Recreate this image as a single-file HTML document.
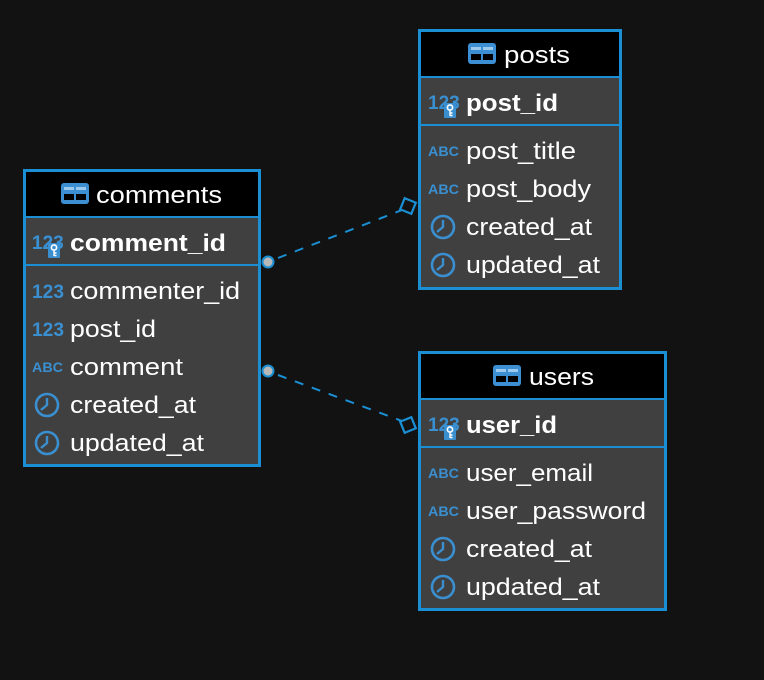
<!DOCTYPE html>
<html><head><style>
html,body{margin:0;padding:0;background:#121212;}
svg{display:block}
text{font-family:"Liberation Sans",sans-serif;}
</style></head><body>
<svg width="764" height="680" viewBox="0 0 764 680" xmlns="http://www.w3.org/2000/svg">
<defs>
<g id="tbl">
<rect x="0" y="0" width="28" height="21" rx="3" fill="#3b8fd2"/>
<rect x="3" y="4" width="10" height="3" fill="#9ccaee"/>
<rect x="15" y="4" width="10" height="3" fill="#9ccaee"/>
<rect x="3" y="11" width="10" height="6" fill="#000"/>
<rect x="15" y="11" width="10" height="6" fill="#000"/>
</g>
<g id="clk">
<circle cx="0" cy="0" r="11" fill="none" stroke="#3a8fd0" stroke-width="2.6"/>
<path d="M0 -7 V0 L-6 5" fill="none" stroke="#3a8fd0" stroke-width="2.4"/>
</g>
<g id="key">
<rect x="0" y="0" width="12" height="15" rx="1" fill="#3a8fd0"/>
<circle cx="6" cy="4.5" r="2.6" fill="none" stroke="#fff" stroke-width="1.6"/>
<path d="M6 7 V13 M6 10 H8.5 M6 12.5 H8.5" stroke="#fff" stroke-width="1.4"/>
</g>
</defs>

<g stroke="#1a8fd3" stroke-width="2" fill="none">
<path d="M278 258 L402 210" stroke-dasharray="9,9"/>
<path d="M278 375 L402 421" stroke-dasharray="9,9"/>
<rect x="402" y="200" width="12" height="12" transform="rotate(22 408 206)" stroke-width="2.2"/>
<rect x="402" y="419" width="12" height="12" transform="rotate(-22 408 425)" stroke-width="2.2"/>
</g>
<circle cx="268" cy="262" r="5.5" fill="#b8b8b8" stroke="#1a8fd3" stroke-width="2"/>
<circle cx="268" cy="371" r="5.5" fill="#b8b8b8" stroke="#1a8fd3" stroke-width="2"/>

<g font-size="24" fill="#fff">
<!-- comments -->
<rect x="24.5" y="170.5" width="235" height="295" fill="#404040" stroke="#1a8fd3" stroke-width="3"/>
<rect x="26" y="172" width="232" height="44" fill="#000"/>
<line x1="26" y1="217" x2="258" y2="217" stroke="#1a8fd3" stroke-width="2"/>
<line x1="26" y1="265" x2="258" y2="265" stroke="#1a8fd3" stroke-width="2"/>
<use href="#tbl" x="61" y="183"/>
<text x="96" y="203" textLength="126" lengthAdjust="spacingAndGlyphs">comments</text>
<text x="32" y="249" font-size="19" font-weight="bold" fill="#3a8fd0">12</text>
<text x="32" y="249" font-size="19" font-weight="bold" fill="#3a8fd0">123</text>
<use href="#key" x="48" y="243"/>
<text x="70" y="251" font-weight="bold" textLength="156" lengthAdjust="spacingAndGlyphs">comment_id</text>
<text x="32" y="298" font-size="19" font-weight="bold" fill="#3a8fd0" textLength="32" lengthAdjust="spacingAndGlyphs">123</text>
<text x="70" y="299" textLength="170" lengthAdjust="spacingAndGlyphs">commenter_id</text>
<text x="32" y="336" font-size="19" font-weight="bold" fill="#3a8fd0" textLength="32" lengthAdjust="spacingAndGlyphs">123</text>
<text x="70" y="337" textLength="86" lengthAdjust="spacingAndGlyphs">post_id</text>
<text x="32" y="372" font-size="14" font-weight="bold" fill="#3a8fd0" textLength="31" lengthAdjust="spacingAndGlyphs">ABC</text>
<text x="70" y="375" textLength="113" lengthAdjust="spacingAndGlyphs">comment</text>
<use href="#clk" x="47" y="405"/>
<text x="70" y="413" textLength="126" lengthAdjust="spacingAndGlyphs">created_at</text>
<use href="#clk" x="47" y="443"/>
<text x="70" y="451" textLength="134" lengthAdjust="spacingAndGlyphs">updated_at</text>

<!-- posts -->
<rect x="419.5" y="30.5" width="201" height="258" fill="#404040" stroke="#1a8fd3" stroke-width="3"/>
<rect x="421" y="32" width="198" height="44" fill="#000"/>
<line x1="421" y1="77" x2="619" y2="77" stroke="#1a8fd3" stroke-width="2"/>
<line x1="421" y1="125" x2="619" y2="125" stroke="#1a8fd3" stroke-width="2"/>
<use href="#tbl" x="468" y="43"/>
<text x="504" y="63" textLength="66" lengthAdjust="spacingAndGlyphs">posts</text>
<text x="428" y="109" font-size="19" font-weight="bold" fill="#3a8fd0">123</text>
<use href="#key" x="444" y="103"/>
<text x="466" y="111" font-weight="bold" textLength="92" lengthAdjust="spacingAndGlyphs">post_id</text>
<text x="428" y="156" font-size="14" font-weight="bold" fill="#3a8fd0" textLength="31" lengthAdjust="spacingAndGlyphs">ABC</text>
<text x="466" y="159" textLength="110" lengthAdjust="spacingAndGlyphs">post_title</text>
<text x="428" y="194" font-size="14" font-weight="bold" fill="#3a8fd0" textLength="31" lengthAdjust="spacingAndGlyphs">ABC</text>
<text x="466" y="197" textLength="125" lengthAdjust="spacingAndGlyphs">post_body</text>
<use href="#clk" x="443" y="227"/>
<text x="466" y="235" textLength="126" lengthAdjust="spacingAndGlyphs">created_at</text>
<use href="#clk" x="443" y="265"/>
<text x="466" y="273" textLength="134" lengthAdjust="spacingAndGlyphs">updated_at</text>

<!-- users -->
<rect x="419.5" y="352.5" width="246" height="257" fill="#404040" stroke="#1a8fd3" stroke-width="3"/>
<rect x="421" y="354" width="243" height="44" fill="#000"/>
<line x1="421" y1="399" x2="664" y2="399" stroke="#1a8fd3" stroke-width="2"/>
<line x1="421" y1="447" x2="664" y2="447" stroke="#1a8fd3" stroke-width="2"/>
<use href="#tbl" x="493" y="365"/>
<text x="529" y="385" textLength="65" lengthAdjust="spacingAndGlyphs">users</text>
<text x="428" y="431" font-size="19" font-weight="bold" fill="#3a8fd0">123</text>
<use href="#key" x="444" y="425"/>
<text x="466" y="433" font-weight="bold" textLength="91" lengthAdjust="spacingAndGlyphs">user_id</text>
<text x="428" y="478" font-size="14" font-weight="bold" fill="#3a8fd0" textLength="31" lengthAdjust="spacingAndGlyphs">ABC</text>
<text x="466" y="481" textLength="127" lengthAdjust="spacingAndGlyphs">user_email</text>
<text x="428" y="516" font-size="14" font-weight="bold" fill="#3a8fd0" textLength="31" lengthAdjust="spacingAndGlyphs">ABC</text>
<text x="466" y="519" textLength="180" lengthAdjust="spacingAndGlyphs">user_password</text>
<use href="#clk" x="443" y="549"/>
<text x="466" y="557" textLength="126" lengthAdjust="spacingAndGlyphs">created_at</text>
<use href="#clk" x="443" y="587"/>
<text x="466" y="595" textLength="134" lengthAdjust="spacingAndGlyphs">updated_at</text>
</g>
</svg>
</body></html>
